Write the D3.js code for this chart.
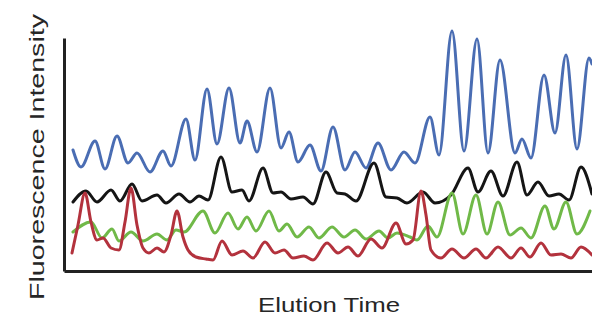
<!DOCTYPE html>
<html>
<head>
<meta charset="utf-8">
<script src="https://cdn.jsdelivr.net/npm/d3@7"></script>
<style>
  html, body { margin: 0; padding: 0; background: #fff; }
  svg { display: block; }
  .trace { fill: none; stroke-width: 3; stroke-linejoin: round; stroke-linecap: round; }
  .axis path { stroke: #222; stroke-width: 3; }
  .label { font-family: "Liberation Sans", Arial, sans-serif; fill: #262626; }
</style>
</head>
<body>
<div id="chart"></div>
<script>
// elution time (arbitrary units) and fluorescence intensity readings per trace
const blueTime = [9,17,31,41,53,64,73,86,99,107,122,131,143,153,165,176,183,193,206,217,225,234,246,257,269,281,291,302,314,327,340,351,366,375,388,400,413,424,436,451,458,467,480,491,502,513,525,528];
const blueValue = [121,104,130,102,135,108,118,99,120,105,152,111,182,127,183,128,150,119,183,123,139,109,126,100,144,101,119,103,128,101,119,108,154,116,240,120,232,118,211,118,132,113,196,138,216,122,213,207];

const blackTime = [9,22,33,47,56,68,78,93,102,115,126,135,144,157,168,178,185,199,209,217,227,239,249,262,273,281,292,310,322,333,343,359,371,387,404,414,427,439,453,463,474,485,495,505,517,528];
const blackValue = [69,80,69,81,70,87,70,76,68,77,69,75,71,114,79,81,70,103,78,79,72,74,67,99,78,77,70,108,74,73,68,79,68,76,103,79,100,75,109,76,89,75,77,71,104,77];

const greenTime = [9,27,38,48,55,67,79,93,103,112,120,139,151,164,174,183,192,205,215,223,233,245,255,268,280,291,302,315,324,333,346,353,364,373,388,399,412,423,434,446,457,467,481,490,502,513,526];
const greenValue = [39,49,33,42,30,39,30,37,31,41,39,60,38,58,42,54,40,60,40,47,34,44,33,44,34,41,32,40,33,38,34,31,45,34,78,37,76,37,69,36,43,33,65,42,69,37,60];

const redTime = [8,14,21,27,33,39,47,55,61,67,73,79,85,93,100,107,113,119,124,132,142,149,158,168,179,189,201,211,220,229,240,249,263,274,284,294,307,318,332,342,349,357,362,367,377,388,400,412,422,434,447,457,466,477,487,497,507,517,528];
const redValue = [18,46,78,49,31,33,23,21,49,83,46,23,18,23,19,36,60,34,21,14,12,11,30,16,20,13,29,18,21,13,15,11,28,18,24,15,32,23,48,27,31,80,56,21,13,22,13,22,13,24,13,23,14,28,16,17,13,24,16];

const traces = [
  { name: 'blue', color: '#4a6db3', time: blueTime, value: blueValue },
  { name: 'black', color: '#151515', time: blackTime, value: blackValue },
  { name: 'green', color: '#70b948', time: greenTime, value: greenValue },
  { name: 'red', color: '#b3323d', time: redTime, value: redValue }
];

const width = 592, height = 320;
const margin = { top: 38, right: 0, bottom: 49, left: 64 };

const svg = d3.select('#chart').append('svg')
  .attr('width', width)
  .attr('height', height);

const xScale = d3.scaleLinear().domain([0, 528]).range([margin.left, width - margin.right]);
const yScale = d3.scaleLinear().domain([0, 233]).range([height - margin.bottom, margin.top]);

const line = d3.line()
  .x(d => xScale(d[0]))
  .y(d => yScale(d[1]))
  .curve(d3.curveMonotoneX);

svg.selectAll('.trace')
  .data(traces)
  .enter()
  .append('path')
  .attr('class', 'trace')
  .attr('stroke', d => d.color)
  .attr('d', d => line(d3.zip(d.time, d.value)));

// bare axes, no ticks
svg.append('g')
  .attr('class', 'axis')
  .attr('transform', `translate(${margin.left},0)`)
  .call(d3.axisLeft(yScale).tickValues([]).tickSizeOuter(0));

svg.append('g')
  .attr('class', 'axis')
  .attr('transform', `translate(0,${height - margin.bottom})`)
  .call(d3.axisBottom(xScale).tickValues([]).tickSizeOuter(0));

svg.append('text')
  .attr('class', 'label')
  .attr('x', 329)
  .attr('y', 312)
  .attr('text-anchor', 'middle')
  .attr('font-size', 21)
  .attr('textLength', 142)
  .attr('lengthAdjust', 'spacingAndGlyphs')
  .text('Elution Time');

svg.append('text')
  .attr('class', 'label')
  .attr('transform', 'translate(44,157) rotate(-90)')
  .attr('text-anchor', 'middle')
  .attr('font-size', 21)
  .attr('textLength', 286)
  .attr('lengthAdjust', 'spacingAndGlyphs')
  .text('Fluorescence Intensity');
</script>
</body>
</html>
